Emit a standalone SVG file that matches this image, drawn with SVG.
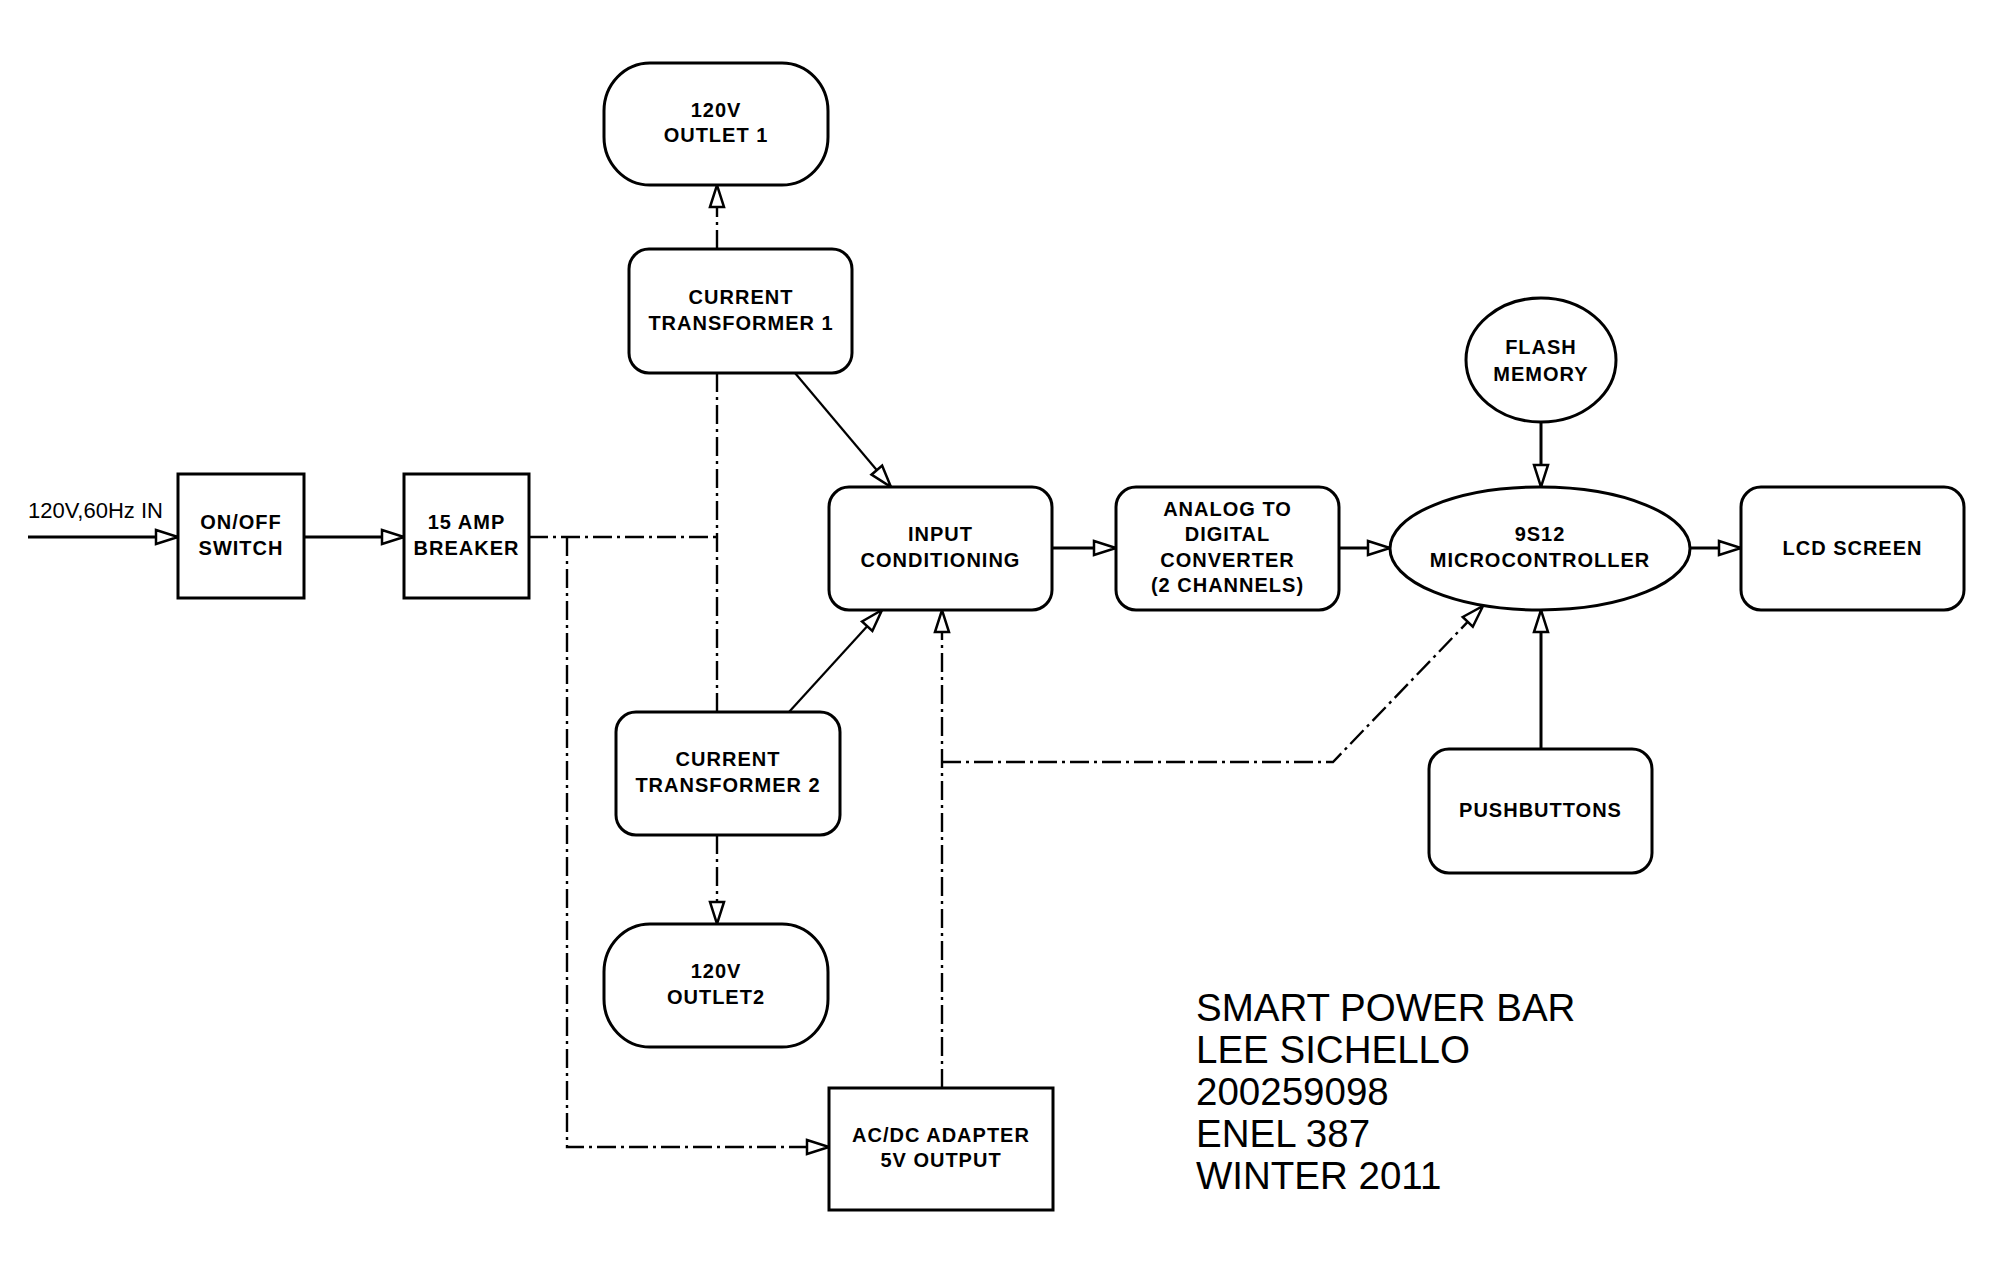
<svg xmlns="http://www.w3.org/2000/svg" width="2004" height="1264" viewBox="0 0 2004 1264">
<style>
.box{fill:#fff;stroke:#000;stroke-width:3}
.lbl{font-family:"Liberation Sans",Arial,sans-serif;font-weight:bold;font-size:20px;letter-spacing:1px;text-anchor:middle;fill:#000}
.title{font-family:"Liberation Sans",Arial,sans-serif;font-size:38.5px;fill:#000}
.note{font-family:"Liberation Sans",Arial,sans-serif;font-size:22px;fill:#000}
.solid{fill:none;stroke:#000;stroke-width:3}
.thin{fill:none;stroke:#000;stroke-width:2.2}
.dd{fill:none;stroke:#000;stroke-width:2.4;stroke-dasharray:19 5 3 5}
</style>
<defs>
<marker id="arr" markerUnits="userSpaceOnUse" markerWidth="26" markerHeight="20" refX="23" refY="8" orient="auto" overflow="visible">
<path d="M1,1 L23,8 L1,15 Z" fill="#fff" stroke="#000" stroke-width="2.5" stroke-dasharray="none"/>
</marker>
</defs>
<rect width="2004" height="1264" fill="#fff"/>

<g id="connectors">
<line class="solid" x1="28" y1="537" x2="178" y2="537" marker-end="url(#arr)"/>
<line class="solid" x1="304" y1="537" x2="404" y2="537" marker-end="url(#arr)"/>
<polyline class="dd" points="529,537 717,537"/>
<line class="dd" x1="717" y1="373" x2="717" y2="712"/>
<line class="dd" x1="717" y1="249" x2="717" y2="185" marker-end="url(#arr)"/>
<line class="dd" x1="717" y1="835" x2="717" y2="924" marker-end="url(#arr)"/>
<polyline class="dd" points="567,537 567,1147 829,1147" marker-end="url(#arr)"/>
<line class="thin" x1="795" y1="373" x2="891" y2="487" marker-end="url(#arr)"/>
<line class="thin" x1="789" y1="712" x2="882" y2="610" marker-end="url(#arr)"/>
<line class="dd" x1="942" y1="1088" x2="942" y2="610" marker-end="url(#arr)"/>
<polyline class="dd" points="942,762 1333,762 1483,606" marker-end="url(#arr)"/>
<line class="solid" x1="1052" y1="548" x2="1116" y2="548" marker-end="url(#arr)"/>
<line class="solid" x1="1339" y1="548" x2="1390" y2="548" marker-end="url(#arr)"/>
<line class="solid" x1="1690" y1="548" x2="1741" y2="548" marker-end="url(#arr)"/>
<line class="solid" x1="1541" y1="423" x2="1541" y2="487" marker-end="url(#arr)"/>
<line class="solid" x1="1541" y1="749" x2="1541" y2="610" marker-end="url(#arr)"/>
</g>

<text class="note" x="28" y="518">120V,60Hz IN</text>

<g id="onoff">
<rect class="box" x="178" y="474" width="126" height="124"/>
<text class="lbl" x="241" y="529">ON/OFF</text>
<text class="lbl" x="241" y="555">SWITCH</text>
</g>

<g id="breaker">
<rect class="box" x="404" y="474" width="125" height="124"/>
<text class="lbl" x="466.5" y="529">15 AMP</text>
<text class="lbl" x="466.5" y="555">BREAKER</text>
</g>

<g id="outlet1">
<rect class="box" x="604" y="63" width="224" height="122" rx="46" ry="48"/>
<text class="lbl" x="716" y="117">120V</text>
<text class="lbl" x="716" y="142">OUTLET 1</text>
</g>

<g id="ct1">
<rect class="box" x="629" y="249" width="223" height="124" rx="20" ry="20"/>
<text class="lbl" x="741" y="304">CURRENT</text>
<text class="lbl" x="741" y="330">TRANSFORMER 1</text>
</g>

<g id="ct2">
<rect class="box" x="616" y="712" width="224" height="123" rx="20" ry="20"/>
<text class="lbl" x="728" y="766">CURRENT</text>
<text class="lbl" x="728" y="792">TRANSFORMER 2</text>
</g>

<g id="outlet2">
<rect class="box" x="604" y="924" width="224" height="123" rx="46" ry="48"/>
<text class="lbl" x="716" y="978">120V</text>
<text class="lbl" x="716" y="1004">OUTLET2</text>
</g>

<g id="acdc">
<rect class="box" x="829" y="1088" width="224" height="122"/>
<text class="lbl" x="941" y="1142">AC/DC ADAPTER</text>
<text class="lbl" x="941" y="1167">5V OUTPUT</text>
</g>

<g id="input-conditioning">
<rect class="box" x="829" y="487" width="223" height="123" rx="20" ry="20"/>
<text class="lbl" x="940.5" y="541">INPUT</text>
<text class="lbl" x="940.5" y="567">CONDITIONING</text>
</g>

<g id="adc">
<rect class="box" x="1116" y="487" width="223" height="123" rx="20" ry="20"/>
<text class="lbl" x="1227.5" y="516">ANALOG TO</text>
<text class="lbl" x="1227.5" y="541">DIGITAL</text>
<text class="lbl" x="1227.5" y="567">CONVERTER</text>
<text class="lbl" x="1227.5" y="592">(2 CHANNELS)</text>
</g>

<g id="flash">
<ellipse class="box" cx="1541" cy="360" rx="75" ry="62"/>
<text class="lbl" x="1541" y="354">FLASH</text>
<text class="lbl" x="1541" y="381">MEMORY</text>
</g>

<g id="mcu">
<ellipse class="box" cx="1540" cy="548.5" rx="150" ry="61.5"/>
<text class="lbl" x="1540" y="541">9S12</text>
<text class="lbl" x="1540" y="567">MICROCONTROLLER</text>
</g>

<g id="lcd">
<rect class="box" x="1741" y="487" width="223" height="123" rx="20" ry="20"/>
<text class="lbl" x="1852.5" y="555">LCD SCREEN</text>
</g>

<g id="pushbuttons">
<rect class="box" x="1429" y="749" width="223" height="124" rx="20" ry="20"/>
<text class="lbl" x="1540.5" y="817">PUSHBUTTONS</text>
</g>

<g id="title">
<text class="title" x="1196" y="1021">SMART POWER BAR</text>
<text class="title" x="1196" y="1063">LEE SICHELLO</text>
<text class="title" x="1196" y="1105">200259098</text>
<text class="title" x="1196" y="1147">ENEL 387</text>
<text class="title" x="1196" y="1189">WINTER 2011</text>
</g>
</svg>
